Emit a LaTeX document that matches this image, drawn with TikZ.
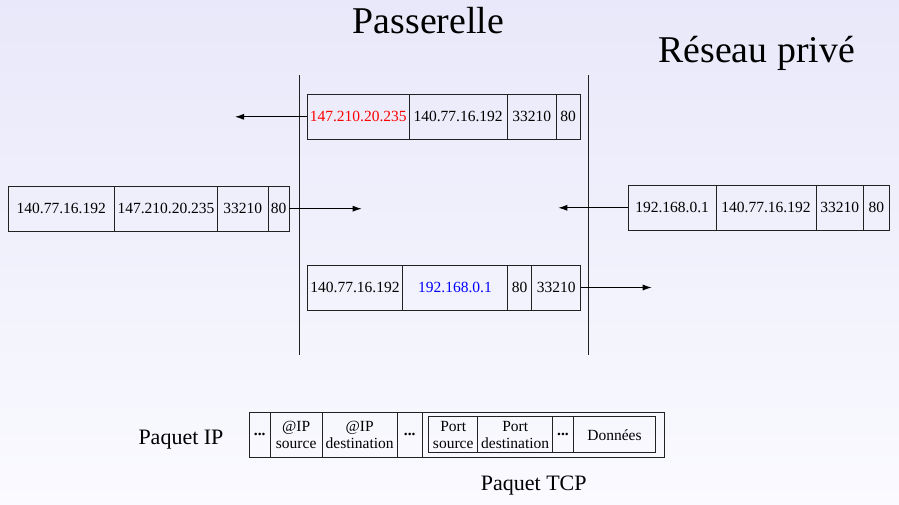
\documentclass[tikz,border=0pt]{standalone}
\usepackage{fontspec}
\setmainfont{Liberation Serif}
\usetikzlibrary{positioning,arrows.meta}
\definecolor{fondhaut}{HTML}{E8E8FA}
\definecolor{fondbas}{HTML}{FAFAFF}
\definecolor{trait}{HTML}{222222}
\begin{document}
\begin{tikzpicture}[x=1pt,y=-1pt,
	cell/.style={draw=trait, line width=1pt, inner sep=0pt, outer sep=0pt, minimum height=45,
		align=center, font=\fontsize{15.5}{17.5}\selectfont},
	petit/.style={cell, minimum height=36},
	fleche/.style={-{Latex[length=9pt,width=6pt]}, line width=0.9pt, draw=black},
	titre/.style={anchor=base west, inner sep=0pt, font=\fontsize{37.8}{44}\selectfont},
	legende/.style={anchor=base west, inner sep=0pt, font=\fontsize{22}{26}\selectfont}]
	\useasboundingbox (0,0) rectangle (899,504);
	\shade [top color=fondhaut, bottom color=fondbas] (0,0) rectangle (899,504);
	% titres
	\node [titre] (pass) at (352.7,33.3) {Passerelle};
	\node [titre] (prive) at (658.3,62.7) {Réseau privé};
	% les deux frontieres
	\foreach \x in {299,588}
	\draw [line width=1pt, trait] (\x,75) -- (\x,355);
	% paquet sortant vers internet
	\coordinate (t0) at (307.3,116.8);
	\foreach \w/\t [count=\i, evaluate=\i as \j using int(\i-1)] in
		{102/\textcolor{red}{147.210.20.235}, 97.7/140.77.16.192, 49.3/33210, 23.7/80}
	\node [cell, minimum width=\w, right=0pt of t\j] (t\i) {\t};
	% paquet venant de internet
	\coordinate (l0) at (8.3,208.7);
	\foreach \w/\t [count=\i, evaluate=\i as \j using int(\i-1)] in
		{106/140.77.16.192, 103.4/147.210.20.235, 50.3/33210, 21.3/80}
	\node [cell, minimum width=\w, right=0pt of l\j] (l\i) {\t};
	% paquet venant du reseau prive
	\coordinate (r0) at (628.3,207.8);
	\foreach \w/\t [count=\i, evaluate=\i as \j using int(\i-1)] in
		{87.7/192.168.0.1, 100/140.77.16.192, 47.3/33210, 26/80}
	\node [cell, minimum width=\w, right=0pt of r\j] (r\i) {\t};
	% paquet renvoye vers le reseau prive
	\coordinate (b0) at (307.3,287.5);
	\foreach \w/\t [count=\i, evaluate=\i as \j using int(\i-1)] in
		{95.4/140.77.16.192, 104.6/\textcolor{blue}{192.168.0.1}, 24.4/80, 49/33210}
	\node [cell, minimum width=\w, right=0pt of b\j] (b\i) {\t};
	% fleches
	\coordinate (ta) at (235,116.8);
	\coordinate (la) at (361.7,208.7);
	\coordinate (ra) at (558.3,207.8);
	\coordinate (ba) at (651.7,287.5);
	\draw [fleche] (t1.west) -- (ta);
	\draw [fleche] (l4.east) -- (la);
	\draw [fleche] (r1.west) -- (ra);
	\draw [fleche] (b4.east) -- (ba);
	% legende : paquet IP
	\coordinate (p0) at (249.3,434.8);
	\foreach \w/\t [count=\i, evaluate=\i as \j using int(\i-1)] in
		{21/\textbf{...}, 51.7/{@IP\\source}, 75.3/{@IP\\destination}, 25/\textbf{...}, 242/{}}
	\node [cell, minimum width=\w, right=0pt of p\j] (p\i) {\t};
	% paquet TCP dans le paquet IP
	\coordinate (q0) at ([xshift=6.4]p5.west);
	\foreach \w/\t [count=\i, evaluate=\i as \j using int(\i-1)] in
		{49/{Port\\source}, 75/{Port\\destination}, 20.6/\textbf{...}, 82.4/Données}
	\node [petit, minimum width=\w, right=0pt of q\j] (q\i) {\t};
	\node [legende] (ip) at (138.3,444.3) {Paquet IP};
	\node [legende] (tcp) at (480.7,490.7) {Paquet TCP};
\end{tikzpicture}
\end{document}
